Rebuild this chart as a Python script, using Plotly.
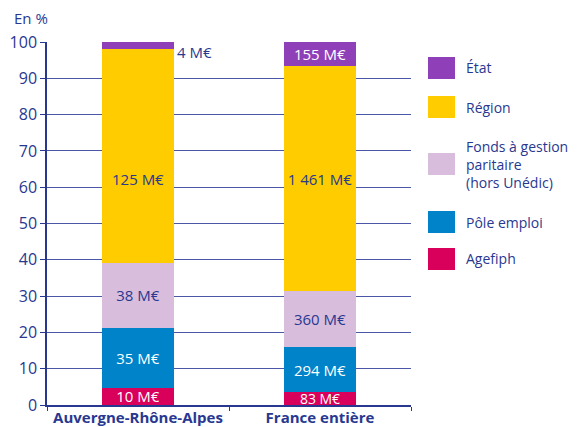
import plotly.graph_objects as go

categories = ["Auvergne-Rhône-Alpes", "France entière"]
series_names = ["Agefiph", "Pôle emploi", "Fonds à gestion<br>paritaire<br>(hors Unédic)", "Région", "État"]
series_colors = ["#d9005b", "#0083c9", "#d8bddc", "#ffcc00", "#8f40b8"]
text_colors = ["white", "white", "#283891", "#283891", "white"]
agefiph = [10, 83]
pole_emploi = [35, 294]
fonds = [38, 360]
region = [125, 1461]
etat = [4, 155]
values = [agefiph, pole_emploi, fonds, region, etat]
y_ticks = list(range(0, 101, 10))

OFF = 8  # default page body margin
W, H = 585 - OFF, 427 - OFF
L, R, T, B = 47, 411, 42, 405  # plot area in window pixels
DARK = "#283891"
FONT = "Open Sans"

def px(x):
    return (x - L) / (R - L)

def py(y):
    return (B - y) / (B - T)

def fmt(v):
    s = f"{v:,}".replace(",", " ")
    return f"{s} M€"

fig = go.Figure()
annotations = []
for i, (name, vals) in enumerate(zip(series_names, values)):
    texts = [fmt(v) for v in vals]
    sizes = [15, 15]
    if i == 0:
        sizes = [15, 14]
    if i in (3, 4):
        texts[0] = ""
    fig.add_trace(go.Bar(
        x=categories, y=vals, name=name,
        marker=dict(color=series_colors[i], line=dict(width=0)),
        text=texts, textposition="inside", insidetextanchor="middle",
        constraintext="none",
        textfont=dict(color=text_colors[i], size=sizes, family=FONT),
        width=0.4, showlegend=False, hoverinfo="skip",
    ))

tot1 = sum(v[1] for v in values)
reg_mid_fr = (sum(v[1] for v in values[:3]) + region[1] / 2) / tot1 * 100
annotations.append(dict(x=0, y=reg_mid_fr, xref="x", yref="y", text=fmt(region[0]),
                        showarrow=False, font=dict(color=DARK, size=15, family=FONT)))
annotations.append(dict(x=0.2, y=100, xref="x", yref="y", text=fmt(etat[0]),
                        xanchor="left", yanchor="top", xshift=1, yshift=2, showarrow=False,
                        font=dict(color=DARK, size=15, family=FONT)))

annotations.append(dict(x=px(12), y=py(18), xref="paper", yref="paper", text="En %",
                        xanchor="left", yanchor="middle", showarrow=False,
                        font=dict(color=DARK, size=15, family=FONT)))

legend_y = [259, 222, 164, 107, 68]
shapes = []
for i, name in enumerate(series_names):
    cy = legend_y[i]
    shapes.append(dict(type="rect", xref="paper", yref="paper",
                       x0=px(428), x1=px(455), y0=py(cy + 11), y1=py(cy - 11),
                       fillcolor=series_colors[i], line=dict(width=0)))
    annotations.append(dict(x=px(464), y=py(cy), xref="paper", yref="paper", text=name,
                            xanchor="left", yanchor="middle", align="left", showarrow=False,
                            font=dict(color=DARK, size=14, family=FONT)))

fig.update_layout(
    width=W, height=H,
    margin=dict(l=L - OFF, r=585 - R, t=T - OFF, b=427 - B, pad=0, autoexpand=False),
    barmode="stack", barnorm="percent",
    plot_bgcolor="white", paper_bgcolor="white",
    font=dict(family=FONT, color=DARK),
    annotations=annotations, shapes=shapes,
    xaxis=dict(
        range=[-0.5, 1.5], showline=True, linecolor=DARK, linewidth=1.5,
        ticks="outside", tickson="boundaries", ticklen=4, tickcolor=DARK,
        ticklabelstandoff=-2,
        tickfont=dict(size=15, color=DARK, family=FONT),
        tickprefix="<b>", ticksuffix="</b>", showgrid=False, automargin=False,
    ),
    yaxis=dict(
        range=[0, 100], tickvals=y_ticks, showline=True, linecolor=DARK, linewidth=1.5,
        ticks="outside", ticklen=5, tickcolor=DARK,
        tickfont=dict(size=16, color=DARK, family=FONT),
        showgrid=True, gridcolor="#4a56a6", gridwidth=1, zeroline=False, automargin=False,
    ),
)

fig.write_html("out.html")
